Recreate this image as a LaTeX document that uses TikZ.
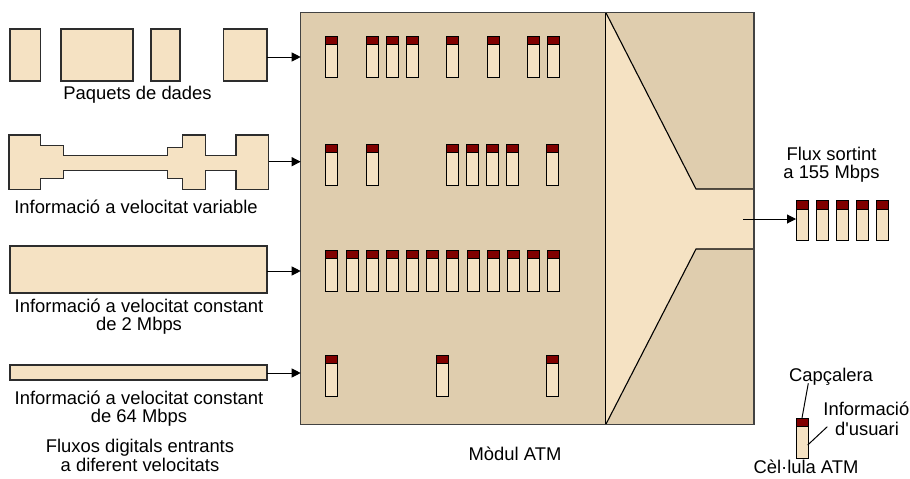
\documentclass[tikz,border=0pt]{standalone}
\usepackage{fontspec}
\setmainfont{Liberation Sans}[Ligatures=TeXOff]
\usetikzlibrary{arrows.meta}
\definecolor{lightfill}{RGB}{245,226,195}
\definecolor{modfill}{RGB}{223,205,174}
\definecolor{headred}{RGB}{128,0,0}
\definecolor{edgegray}{RGB}{45,45,45}
\tikzset{
  pkt/.style={draw=edgegray,line width=1.1pt,fill=lightfill},
  modbox/.style={draw=edgegray!90,line width=1.4pt,fill=modfill},
  funnel/.style={draw=black,line width=1.1pt},
  cellbody/.style={draw=black,line width=1pt,fill=lightfill},
  cellhead/.style={draw=black,line width=1pt,fill=headred},
  arr/.style={draw=black,line width=1pt,-{Triangle[length=9pt,width=9pt]}},
  lbl/.style={font=\fontsize{18.4}{20}\selectfont,anchor=base,inner sep=0pt},
  leader/.style={draw=black,line width=1pt}
}
\newcommand\atmcellx[2]{%
  \draw[cellbody] (#1,#2) rectangle ++(12,41);
  \draw[cellhead] (#1,#2) rectangle ++(12,8.5);}
\begin{document}
\begin{tikzpicture}[x=1pt,y=-1pt]
\useasboundingbox (0,0) rectangle (910,479);
% module
\draw[modbox] (300.7,12.3) rectangle (754,424.7);
\coordinate (modL) at (300.7,12.3);
\fill[lightfill] (605.7,12.3) -- (696,189) -- (754,189) -- (754,249) -- (696,249) -- (605.7,424.7) -- cycle;
\draw[funnel] (605.7,12.3) -- (696,189) -- (754,189);
\draw[funnel] (605.7,424.7) -- (696,249) -- (754,249);
\draw[funnel] (605.7,12.3) -- (605.7,424.7);
\draw[modbox,fill=none] (300.7,12.3) rectangle (754,424.7);
% packets
\draw[pkt] (10,29) rectangle (40.5,81);
\draw[pkt] (61,29) rectangle (133,81);
\draw[pkt] (151,29) rectangle (180,81);
\draw[pkt] (223.5,29) rectangle (267,81);
\coordinate (p1) at (267,57);
% variable rate
\draw[pkt] (9,135) -- (40.7,135) -- (40.7,145.7) -- (63.3,145.7) -- (63.3,155.7)
  -- (167.7,155.7) -- (167.7,147.7) -- (182.7,147.7) -- (182.7,135) -- (205.7,135)
  -- (205.7,155.7) -- (236,155.7) -- (236,135) -- (268.7,135) -- (268.7,189.3)
  -- (236,189.3) -- (236,170.7) -- (205.7,170.7) -- (205.7,189.3) -- (182.7,189.3)
  -- (182.7,178.3) -- (167.7,178.3) -- (167.7,170.7) -- (63.3,170.7) -- (63.3,178.3)
  -- (40.7,178.3) -- (40.7,189.3) -- (9,189.3) -- cycle;
\coordinate (p2) at (268.7,161.7);
% constant 2 Mbps
\draw[pkt] (10,246) rectangle (267,293);
\coordinate (p3) at (267,271);
% constant 64 Mbps
\draw[pkt] (10,365) rectangle (267,380);
\coordinate (p4) at (267,373);
% arrows into module
\draw[arr] (p1) -- (p1 -| modL);
\draw[arr] (p2) -- (p2 -| modL);
\draw[arr] (p3) -- (p3 -| modL);
\draw[arr] (p4) -- (p4 -| modL);
% cells in module
\foreach \x in {325,366,386,406,446,487,527,547} {\atmcellx{\x}{36}}
\foreach \x in {325,366,446,466.5,486.7,506.7,546} {\atmcellx{\x}{144}}
\foreach \x in {325,346,366,386,406,426,446,467,487,507,527,547} {\atmcellx{\x}{250}}
\foreach \x in {325,436,546} {\atmcellx{\x}{355}}
% output
\coordinate (outS) at (743,219);
\coordinate (outE) at (796,219);
\draw[arr] (outS) -- (outE);
\foreach \x in {796,816,836,856,876} {\draw[cellbody] (\x,200.7) rectangle ++(12,39.3); \draw[cellhead] (\x,200.7) rectangle ++(12,8.6);}
% legend cell
\draw[cellbody] (796,418) rectangle (808,458);
\draw[cellhead] (796,418) rectangle (808,426.3);
\coordinate (hdtop) at (802,418);
\coordinate (bodyr) at (807.7,445);
% labels
\node[lbl] (lpk) at (137.5,99) {Paquets de dades};
\node[lbl] (lvar) at (136,213) {Informació a velocitat variable};
\node[lbl] (l2a) at (139,312.5) {Informació a velocitat constant};
\node[lbl] (l2b) at (139,330.5) {de 2 Mbps};
\node[lbl] (l64a) at (139,404) {Informació a velocitat constant};
\node[lbl] (l64b) at (139,422.5) {de 64 Mbps};
\node[lbl] (lfa) at (140,452.5) {Fluxos digitals entrants};
\node[lbl] (lfb) at (140,471) {a diferent velocitats};
\node[lbl] (lmod) at (515,460.7) {Mòdul ATM};
\node[lbl] (lout1) at (831.5,160) {Flux sortint};
\node[lbl] (lout2) at (831.5,178.3) {a 155 Mbps};
\node[lbl] (lcap) at (831,381.7) {Capçalera};
\node[lbl,anchor=base east] (linf) at (909.5,415) {Informació};
\node[lbl] (lusu) at (867,435) {d'usuari};
\node[lbl] (lcel) at (806,473.3) {Cèl·lula ATM};
\draw[leader] (808.3,383.3) -- (hdtop);
\draw[leader] (827.3,426.7) -- (bodyr);
\end{tikzpicture}
\end{document}
